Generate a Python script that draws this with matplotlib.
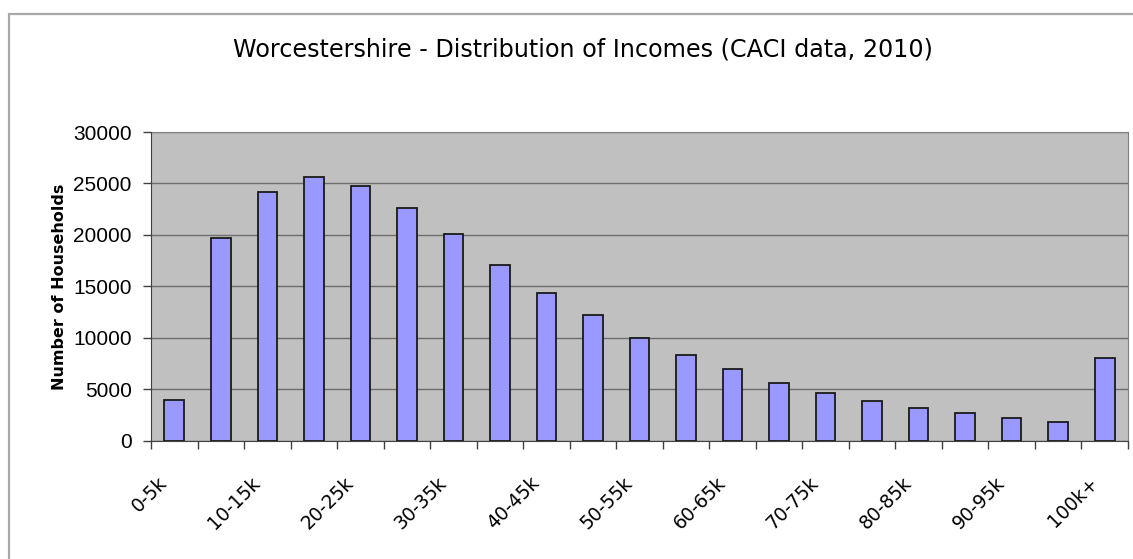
import matplotlib

matplotlib.use("Agg")
import matplotlib.pyplot as plt
import numpy as np
from matplotlib.patches import Rectangle
from matplotlib.transforms import ScaledTranslation

# Income bands (every other one labelled on the axis, as in the original)
bands = [
    "0-5k", "5-10k", "10-15k", "15-20k", "20-25k", "25-30k", "30-35k",
    "35-40k", "40-45k", "45-50k", "50-55k", "55-60k", "60-65k", "65-70k",
    "70-75k", "75-80k", "80-85k", "85-90k", "90-95k", "95-100k", "100k+",
]
households = [
    3950, 19700, 24150, 25600, 24750, 22650, 20050,
    17100, 14400, 12200, 10000, 8350, 6950, 5600,
    4600, 3830, 3150, 2660, 2180, 1850, 8050,
]
y_ticks = [0, 5000, 10000, 15000, 20000, 25000, 30000]

W, H = 1133, 559
fig = plt.figure(figsize=(W / 100, H / 100), dpi=100)
fig.patch.set_facecolor("white")

# outer chart frame (runs off the right and bottom of the picture)
fig.patches.append(Rectangle((9 / W, -0.05), 1.2, 1 - 14 / H + 0.05,
                             transform=fig.transFigure, fill=False,
                             edgecolor="#a8a8a8", lw=1.6, zorder=0))

ax = fig.add_axes([151 / W, 1 - 440.7 / H, 977 / W, 308.7 / H])
ax.set_facecolor("#c0c0c0")

x = np.arange(len(bands))
ax.bar(x, households, width=0.42, color="#9999ff", edgecolor="#1a1a1a",
       linewidth=1.3, zorder=3)

ax.set_xlim(-0.5, len(bands) - 0.5)
ax.set_ylim(0, 30000)
ax.set_yticks(y_ticks)
ax.set_yticklabels([str(v) for v in y_ticks], fontsize=15,
                   family="Liberation Sans")
ax.yaxis.grid(True, color="#6e6e6e", lw=1.0, zorder=1)
ax.tick_params(axis="y", direction="out", length=6, width=1,
               color="#404040", pad=8)

# labels on every other band, tick marks on every band boundary
ax.set_xticks(x[::2])
ax.set_xticklabels(bands[::2], rotation=45, ha="right", va="center",
                   rotation_mode="anchor", fontsize=13.5)
ax.tick_params(axis="x", length=0, pad=28)
shift = ScaledTranslation(-10 / 100, 0, fig.dpi_scale_trans)
for lbl in ax.get_xticklabels():
    lbl.set_transform(lbl.get_transform() + shift)
ax.set_xticks(np.arange(-0.5, len(bands)), minor=True)
ax.tick_params(axis="x", which="minor", direction="out", length=6,
               width=1, color="#404040")

for side in ("top", "right"):
    ax.spines[side].set_color("#808080")
for side in ("left", "bottom"):
    ax.spines[side].set_color("#404040")
    ax.spines[side].set_zorder(4)

ax.set_ylabel("Number of Households", fontsize=11.5, fontweight="bold",
              labelpad=4)

fig.text(583 / W, 1 - 50 / H,
         "Worcestershire - Distribution of Incomes (CACI data, 2010)",
         ha="center", va="center", fontsize=17.2)

fig.savefig("out.png", dpi=100)
